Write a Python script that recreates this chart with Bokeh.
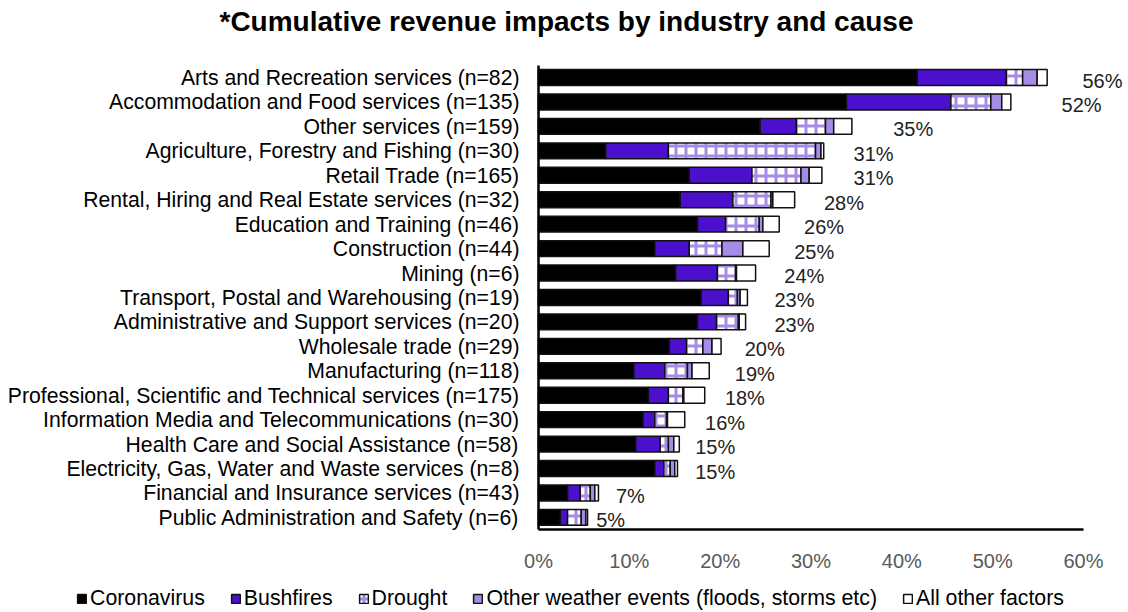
from bokeh.plotting import figure
from bokeh.models import (ColumnDataSource, Range1d, FixedTicker, LabelSet, Label)
from bokeh.core.properties import value
from bokeh.transform import stack
from bokeh.embed import file_html
from bokeh.resources import INLINE

industries = [
    "Arts and Recreation services (n=82)",
    "Accommodation and Food services (n=135)",
    "Other services (n=159)",
    "Agriculture, Forestry and Fishing (n=30)",
    "Retail Trade (n=165)",
    "Rental, Hiring and Real Estate services (n=32)",
    "Education and Training (n=46)",
    "Construction (n=44)",
    "Mining (n=6)",
    "Transport, Postal and Warehousing (n=19)",
    "Administrative and Support services (n=20)",
    "Wholesale trade (n=29)",
    "Manufacturing (n=118)",
    "Professional, Scientific and Technical services (n=175)",
    "Information Media and Telecommunications (n=30)",
    "Health Care and Social Assistance (n=58)",
    "Electricity, Gas, Water and Waste services (n=8)",
    "Financial and Insurance services (n=43)",
    "Public Administration and Safety (n=6)",
]
coronavirus = [41.7, 33.9, 24.4, 7.4, 16.6, 15.6, 17.5, 12.8, 15.1, 17.9, 17.5, 14.4, 10.5, 12.1, 11.5, 10.7, 12.8, 3.2, 2.4]
bushfires = [9.8, 11.5, 4.0, 6.9, 6.9, 5.8, 3.1, 3.8, 4.6, 3.0, 2.1, 1.9, 3.4, 2.2, 1.3, 2.7, 1.0, 1.4, 0.8]
drought = [1.8, 4.4, 3.2, 16.2, 5.4, 4.2, 3.7, 3.6, 2.0, 1.0, 2.4, 1.8, 2.5, 1.6, 1.3, 0.9, 0.7, 1.1, 1.5]
other_weather = [1.6, 1.2, 0.9, 0.6, 0.9, 0.2, 0.4, 2.3, 0.1, 0.3, 0.1, 1.0, 0.5, 0.1, 0.1, 0.6, 0.5, 0.5, 0.5]
all_other = [1.1, 1.0, 2.0, 0.3, 1.4, 2.4, 1.8, 2.9, 2.1, 0.8, 0.7, 1.0, 1.9, 2.3, 1.9, 0.6, 0.3, 0.4, 0.2]
total_labels = [56, 52, 35, 31, 31, 28, 26, 25, 24, 23, 23, 20, 19, 18, 16, 15, 15, 7, 5]
series_names = ["Coronavirus", "Bushfires", "Drought", "Other weather events (floods, storms etc)", "All other factors"]
x_ticks = [0, 10, 20, 30, 40, 50, 60]
x_tick_labels = ["0%", "10%", "20%", "30%", "40%", "50%", "60%"]
title_text = "*Cumulative revenue impacts by industry and cause"

FONT = "Liberation Sans"
W, H = 1128, 612
fields = ["corona", "bush", "drought", "other", "allother"]
n = len(industries)
ypos = [n - 1 - i for i in range(n)]          # first industry on top

# layout in pixels: 0% at x=538, 60% at x=1083; first row centred at y=77, rows 24.44px apart
x0_px, x60_px = 538, 1083
row0_px, row_px = 77, 24.44
px_per_unit = (x60_px - x0_px) / x_ticks[-1]
x_start = -x0_px / px_per_unit
x_end = (W - x0_px) / px_per_unit
y_end = (n - 1) + row0_px / row_px
y_start = y_end - H / row_px
label_limit = (1082 - x0_px) / px_per_unit

src = ColumnDataSource(dict(
    y=ypos,
    corona=coronavirus, bush=bushfires, drought=drought,
    other=other_weather, allother=all_other,
    lab=[f"{v}%" for v in total_labels],
    labx=[min(v * 1.09 + 0.9, label_limit) for v in total_labels],
))

p = figure(width=W, height=H, output_backend="svg", toolbar_location=None,
           x_range=Range1d(x_start, x_end), y_range=Range1d(y_start, y_end),
           min_border_left=0, min_border_right=0, min_border_top=0, min_border_bottom=0)
p.outline_line_color = None
p.grid.visible = False

fills = ["#000000", "#4A10CC", "#FFFFFF", "#A58CE6", "#FFFFFF"]
for i, f in enumerate(fields):
    st = dict(fill_color=fills[i], line_color="#111111", line_width=1.5)
    if f == "drought":
        st.update(hatch_pattern="cross", hatch_color="#A58CE6",
                  hatch_scale=10, hatch_weight=3)
    p.hbar(y="y", height=0.65, source=src,
           left=stack(*fields[:i]) if i else 0, right=stack(*fields[:i + 1]),
           legend_label=series_names[i], **st)

labels = LabelSet(x="labx", y="y", text="lab", source=src, y_offset=-3,
                  text_align="left", text_baseline="middle", text_font=value(FONT),
                  text_font_size="20px", text_color="#222222")
p.add_layout(labels)

p.xaxis.fixed_location = -0.5
p.xaxis.ticker = FixedTicker(ticks=x_ticks)
p.xaxis.bounds = (x_ticks[0], x_ticks[-1])
p.xaxis.major_label_overrides = {t: l for t, l in zip(x_ticks, x_tick_labels)}
p.xaxis.major_label_text_font = FONT
p.xaxis.major_label_text_font_size = "20px"
p.xaxis.major_label_text_color = "#595959"
p.xaxis.major_tick_line_color = None
p.xaxis.minor_tick_line_color = None
p.xaxis.major_label_standoff = 14
p.xaxis.axis_line_width = 2.5
p.xaxis.axis_line_color = "black"

p.yaxis.fixed_location = 0
p.yaxis.ticker = FixedTicker(ticks=ypos)
p.yaxis.bounds = (-0.5, n - 0.5)
p.yaxis.major_label_overrides = {yv: name for yv, name in zip(ypos, industries)}
p.yaxis.major_label_text_font = FONT
p.yaxis.major_label_text_font_size = "21.2px"
p.yaxis.major_label_text_color = "black"
p.yaxis.major_tick_line_color = None
p.yaxis.minor_tick_line_color = None
p.yaxis.major_label_standoff = 13
p.yaxis.axis_line_width = 2.5
p.yaxis.axis_line_color = "black"

title = Label(x=566, y=H - 21, x_units="screen", y_units="screen", text=title_text,
              text_align="center", text_baseline="middle", text_font=FONT,
              text_font_style="bold", text_font_size="28px", text_color="black")
p.add_layout(title)

lg = p.legend[0]
lg.orientation = "horizontal"
lg.location = (76, 1)
lg.glyph_width = 11
lg.glyph_height = 11
lg.label_height = 21
lg.label_standoff = 3
lg.spacing = 25
lg.padding = 0
lg.margin = 0
lg.border_line_color = None
lg.background_fill_alpha = 0
lg.label_text_font = FONT
lg.label_text_font_size = "21.3px"
lg.label_text_color = "black"

open("out.html", "w").write(file_html(p, INLINE))
